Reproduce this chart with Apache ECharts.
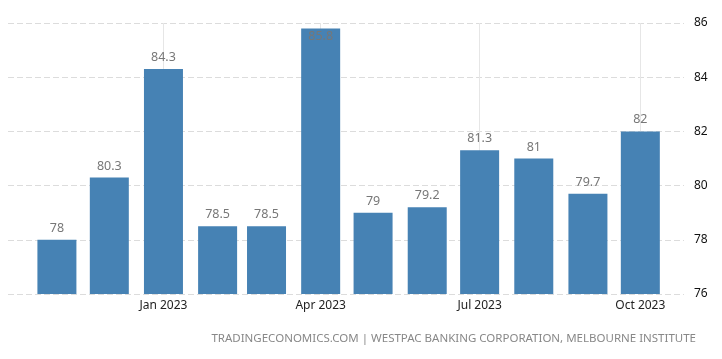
<!DOCTYPE html>
<html><head><meta charset="utf-8">
<script src="https://cdn.jsdelivr.net/npm/echarts@6/dist/echarts.min.js"></script>
<style>html,body{margin:0;padding:0;background:#fff}#c{width:722px;height:359px}</style>
</head><body><div id="c"></div>
<script>
const months = ['2022-11-01','2022-12-01','2023-01-01','2023-02-01','2023-03-01','2023-04-01','2023-05-01','2023-06-01','2023-07-01','2023-08-01','2023-09-01','2023-10-01'];
const values = [78, 80.3, 84.3, 78.5, 78.5, 85.8, 79, 79.2, 81.3, 81, 79.7, 82];
const xTicks = ['2023-01-01','2023-04-01','2023-07-01','2023-10-01'];
const yTicks = [76, 78, 80, 82, 84, 86];
const source = 'TRADINGECONOMICS.COM | WESTPAC BANKING CORPORATION, MELBOURNE INSTITUTE';

const FONT = 'Noto Sans';
const BAR_W = 39;
const yMin = yTicks[0], yMax = yTicks[yTicks.length - 1];
const maxVal = Math.max(...values);
const tickTimes = xTicks.map(d => echarts.time.parse(d).getTime());

const chart = echarts.init(document.getElementById('c'), null, {renderer: 'canvas'});
chart.setOption({
  animation: false,
  textStyle: {fontFamily: FONT},
  grid: {left: 8, right: 38, top: 23, bottom: 65, containLabel: false},
  xAxis: {
    type: 'time',
    min: '2022-10-04',
    max: '2023-10-26',
    axisLine: {show: false},
    axisTick: {show: false, customValues: tickTimes},
    axisLabel: {
      customValues: tickTimes,
      formatter: '{MMM} {yyyy}',
      color: '#222', fontSize: 12, fontFamily: FONT, margin: 6,
      hideOverlap: false
    },
    splitLine: {show: true, showMinLine: false, showMaxLine: false,
      lineStyle: {color: '#e6e6e6', type: 'solid', width: 1}}
  },
  yAxis: {
    type: 'value',
    position: 'right',
    min: yMin,
    max: yMax,
    interval: 2,
    axisLine: {show: false},
    axisTick: {show: false},
    axisLabel: {color: '#111', fontSize: 12, fontFamily: FONT, margin: 10},
    splitLine: {show: true, lineStyle: {color: '#dcdcdc', type: [6, 3], width: 1}}
  },
  series: [{
    type: 'custom',
    data: months.map((m, i) => [m, values[i]]),
    encode: {x: 0, y: 1},
    renderItem: function (params, api) {
      const x = api.value(0), v = api.value(1);
      const top = api.coord([x, v]);
      const base = api.coord([x, yMin]);
      const inside = v === maxVal;
      return {
        type: 'group',
        children: [{
          type: 'rect',
          shape: {x: top[0] - BAR_W / 2, y: top[1], width: BAR_W, height: base[1] - top[1]},
          style: {fill: '#4682b4'}
        }, {
          type: 'text',
          x: top[0], y: inside ? top[1] + 2 : top[1] - 5,
          style: {
            text: String(v), fill: '#777', fontSize: 12.5, fontFamily: FONT,
            align: 'center', verticalAlign: inside ? 'top' : 'bottom'
          }
        }]
      };
    }
  }],
  graphic: [{
    type: 'text', right: 26, bottom: 14,
    style: {text: source, fill: '#888', fontSize: 11.5, fontFamily: FONT}
  }]
});
</script></body></html>
